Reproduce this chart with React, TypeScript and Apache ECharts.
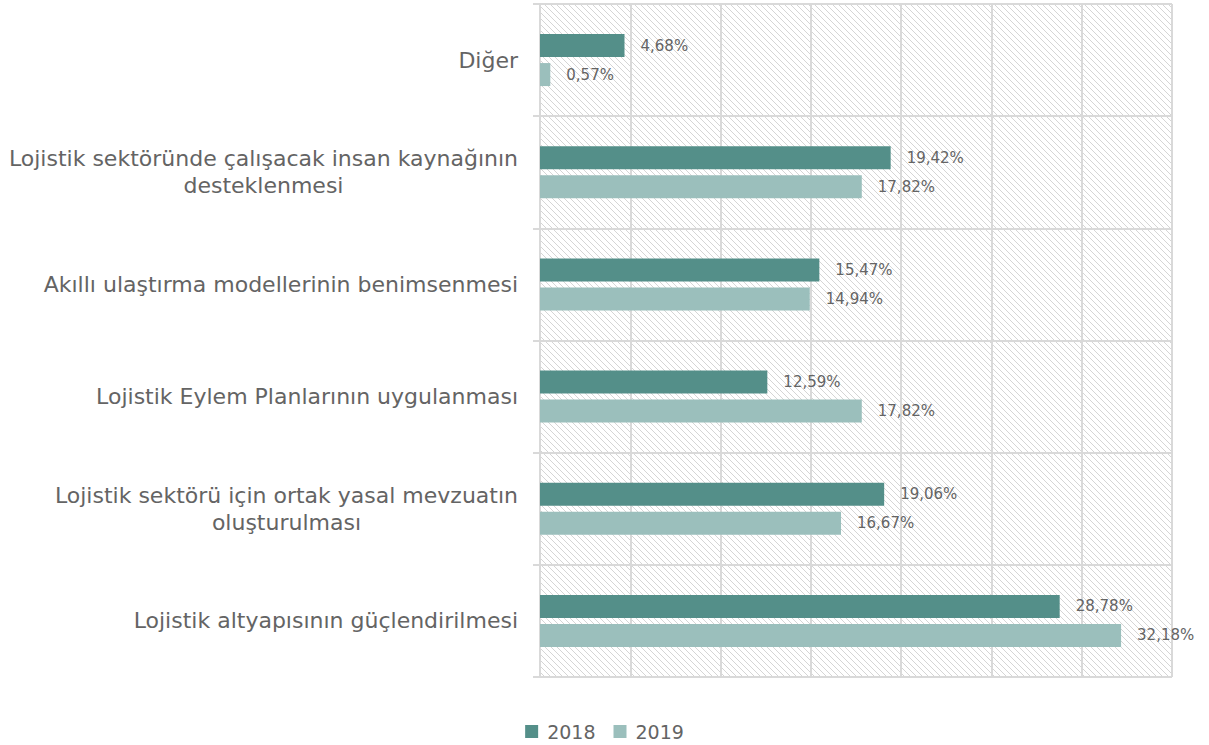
import React, { useEffect, useRef } from "react";
import * as echarts from "echarts";

const categories = [
  "Lojistik altyapısının güçlendirilmesi",
  "Lojistik sektörü için ortak yasal mevzuatın\noluşturulması",
  "Lojistik Eylem Planlarının uygulanması",
  "Akıllı ulaştırma modellerinin benimsenmesi",
  "Lojistik sektöründe çalışacak insan kaynağının\ndesteklenmesi",
  "Diğer",
];
const values2018 = [28.78, 19.06, 12.59, 15.47, 19.42, 4.68];
const values2019 = [32.18, 16.67, 17.82, 14.94, 17.82, 0.57];
const seriesNames = ["2018", "2019"];

const FONT = "'DejaVu Sans', sans-serif";
const TEXT = "#646464";
const GRID = "#d9d9d9";

function makeHatch(): HTMLCanvasElement {
  const c = document.createElement("canvas");
  c.width = 6;
  c.height = 6;
  const ctx = c.getContext("2d")!;
  ctx.fillStyle = "#ffffff";
  ctx.fillRect(0, 0, 6, 6);
  ctx.strokeStyle = "rgba(195,195,195,0.7)";
  ctx.lineWidth = 1;
  ctx.beginPath();
  ctx.moveTo(-1, -1);
  ctx.lineTo(7, 7);
  ctx.moveTo(-1, 5);
  ctx.lineTo(1, 7);
  ctx.moveTo(5, -1);
  ctx.lineTo(7, 1);
  ctx.stroke();
  return c;
}

const fmt = (v: number) => v.toFixed(2).replace(".", ",") + "%";

export default function App() {
  const ref = useRef<HTMLDivElement>(null);
  useEffect(() => {
    if (!ref.current) return;
    const chart = echarts.init(ref.current, undefined, { renderer: "svg" });
    const hatch = makeHatch();
    const barLabel = {
      show: true,
      position: "right" as const,
      distance: 16,
      fontFamily: FONT,
      fontSize: 15,
      color: TEXT,
      formatter: (p: any) => fmt(p.value),
    };
    chart.setOption({
      animation: false,
      textStyle: { fontFamily: FONT },
      legend: {
        data: seriesNames,
        left: "center",
        top: 717,
        icon: "rect",
        itemWidth: 13,
        itemHeight: 13,
        itemGap: 18,
        textStyle: { fontSize: 19, color: TEXT, fontFamily: FONT, padding: [0, 0, 0, 4] },
      },
      grid: {
        left: 540,
        right: 37,
        top: 4,
        bottom: 68,
        show: true,
        borderWidth: 0,
        backgroundColor: { image: hatch, repeat: "repeat" } as any,
      },
      xAxis: {
        type: "value",
        min: 0,
        max: 35,
        interval: 5,
        axisLabel: { show: false },
        axisLine: { show: false },
        axisTick: { show: false },
        splitLine: { show: true, lineStyle: { color: GRID, width: 2 } },
      },
      yAxis: {
        type: "category",
        data: categories,
        axisLine: { show: true, lineStyle: { color: GRID, width: 2 } },
        axisTick: { show: true, length: 7, lineStyle: { color: GRID, width: 2 } },
        splitLine: { show: true, lineStyle: { color: GRID, width: 2 } },
        axisLabel: {
          margin: 22,
          fontSize: 22,
          color: TEXT,
          fontFamily: FONT,
          lineHeight: 27,
          formatter: (v: string) =>
            v
              .split("\n")
              .map((l) => `{c|${l}}`)
              .join("\n"),
          rich: {
            c: { align: "center", fontSize: 22, color: TEXT, fontFamily: FONT, lineHeight: 27 },
          },
        },
      },
      series: [
        {
          name: seriesNames[0],
          type: "bar",
          data: values2018,
          barWidth: 23,
          barGap: "26%",
          itemStyle: { color: "#548f89" },
          label: barLabel,
        },
        {
          name: seriesNames[1],
          type: "bar",
          data: values2019,
          barWidth: 23,
          barGap: "26%",
          itemStyle: { color: "#9bbfbc" },
          label: barLabel,
        },
      ],
    });
    return () => chart.dispose();
  }, []);
  return (
    <div
      ref={ref}
      style={{ position: "absolute", left: 0, top: 0, width: 1209, height: 745 }}
    />
  );
}
